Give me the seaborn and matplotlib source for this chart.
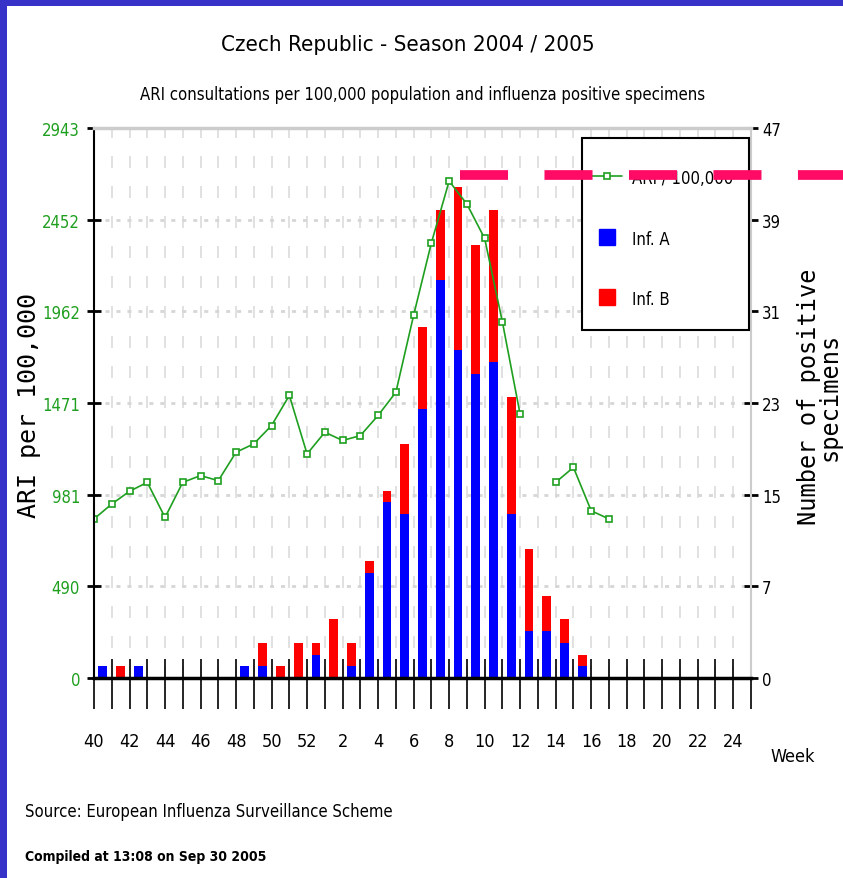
import numpy as np
import pandas as pd
import seaborn as sns
import matplotlib.pyplot as plt
from matplotlib.lines import Line2D
from matplotlib.patches import Rectangle

# season weeks 40/2004 .. 25/2005
weeks = [40, 41, 42, 43, 44, 45, 46, 47, 48, 49, 50, 51, 52,
         1, 2, 3, 4, 5, 6, 7, 8, 9, 10, 11, 12, 13, 14, 15, 16, 17,
         18, 19, 20, 21, 22, 23, 24, 25]
ari = [851, 931, 999, 1047, 859, 1047, 1083, 1056, 1208, 1253, 1351, 1512, 1199,
       1315, 1271, 1297, 1405, 1529, 1941, 2328, 2659, 2536, 2352, 1905, 1410,
       np.nan, 1047, 1127, 895, 851,
       np.nan, np.nan, np.nan, np.nan, np.nan, np.nan, np.nan, np.nan]
inf_a = [1, 0, 1, 0, 0, 0, 0, 0, 1, 1, 0, 0, 2,
         0, 1, 9, 15, 14, 23, 34, 28, 26, 27, 14, 4, 4, 3, 1, 0, 0,
         0, 0, 0, 0, 0, 0, 0, 0]
inf_b = [0, 1, 0, 0, 0, 0, 0, 0, 0, 2, 1, 3, 1,
         5, 2, 1, 1, 6, 7, 6, 14, 11, 13, 10, 7, 3, 2, 1, 0, 0,
         0, 0, 0, 0, 0, 0, 0, 0]
ari_ticklabels = ['0', '490', '981', '1471', '1962', '2452', '2943']
pos_ticklabels = ['0', '7', '15', '23', '31', '39', '47']
ari_max = 2943
pos_max = 47
threshold = 2690
threshold_span = [20.6, 42.6]   # in week positions

GREEN = '#1f9f1f'
NARROW = ['Liberation Sans Narrow', 'DejaVu Sans Condensed', 'DejaVu Sans']
MONO = 'DejaVu Sans Mono'

df = pd.DataFrame({'pos': np.arange(len(weeks)), 'week': weeks, 'ari': ari,
                   'inf_a': inf_a, 'inf_b': inf_b})
df['total'] = df['inf_a'] + df['inf_b']
df['bar_x'] = df['pos'] + 0.5
df['segment'] = df['ari'].isna().cumsum()
week_labels = [str(w) if i % 2 == 0 else '' for i, w in enumerate(weeks)]

sns.set_theme(style='white')
plt.rcParams['font.family'] = NARROW
plt.rcParams['font.stretch'] = 'condensed'
plt.rcParams['text.color'] = 'black'

W, H = 843, 879
fig = plt.figure(figsize=(W / 100, H / 100), dpi=100)
fig.patch.set_facecolor('white')
ax = fig.add_axes([94 / W, 1 - 679 / H, 657 / W, 550 / H])
ax2 = ax.twinx()
ax.set_zorder(ax2.get_zorder() + 1)
ax.patch.set_visible(False)

# stacked bars on the right (count) axis
sns.barplot(data=df, x='bar_x', y='total', native_scale=True, color='#ff0000',
            saturation=1, width=0.5, linewidth=0, errorbar=None, ax=ax2)
sns.barplot(data=df, x='bar_x', y='inf_a', native_scale=True, color='#0000ff',
            saturation=1, width=0.5, linewidth=0, errorbar=None, ax=ax2)

# ARI line on the left axis, broken where a week is missing
sns.lineplot(data=df.dropna(subset=['ari']), x='pos', y='ari', units='segment',
             estimator=None, color=GREEN, lw=1.2, marker='s', ms=5,
             mfc='white', mec=GREEN, mew=1.2, legend=False, ax=ax)

ax.plot(threshold_span, [threshold, threshold], color='#ff0a64', lw=7,
        ls=(0, (4.94, 3.75)), dash_capstyle='butt', clip_on=False, zorder=6)

ax.set_xlim(0, len(weeks) - 1)
ax.set_ylim(0, ari_max)
ax2.set_ylim(0, pos_max)
ax.set_xticks(df['pos'], week_labels)
ax.set_yticks(np.linspace(0, ari_max, 7), ari_ticklabels)
ax2.set_yticks(np.linspace(0, pos_max, 7), pos_ticklabels)
for a in (ax, ax2):
    a.set_xlabel('')
    a.set_ylabel('')

# grid lives on the bottom axes so it stays behind the bars
ax2.xaxis.set_visible(True)
ax2.tick_params(axis='x', direction='in', length=14, width=1.2, color='black',
                bottom=True, top=False, labelbottom=False, labeltop=False)
ax2.set_axisbelow(True)
ax2.grid(axis='x', color='#dcdcdc', lw=1.2, ls=(0, (7.2, 10.8)))
ax2.grid(axis='y', color='#d6d6d6', lw=2, ls=(0, (1.45, 2.5)))
ax.grid(False)

for s in ax2.spines.values():
    s.set_visible(False)
ax.spines['left'].set_color('black')
ax.spines['left'].set_linewidth(1.5)
ax.spines['bottom'].set_color('black')
ax.spines['bottom'].set_linewidth(2.5)
ax.spines['top'].set_color('#cccccc')
ax.spines['top'].set_linewidth(2.5)
ax.spines['right'].set_color('#cccccc')
ax.spines['right'].set_linewidth(1.5)

ax.tick_params(axis='x', direction='out', length=22, width=1.2, pad=17,
               labelsize=13, colors='black', bottom=True)
ax.tick_params(axis='y', direction='inout', length=10, width=2, pad=5,
               labelsize=12, labelcolor=GREEN, color='black', left=True)
ax2.tick_params(axis='y', direction='inout', length=10, width=2, pad=3,
                labelsize=12, labelcolor='black', color='black', right=True)

# legend: box drawn separately so the entries can sit low in a tall frame
ax.add_patch(Rectangle((582 / W, 1 - 331 / H), 167 / W, 192 / H,
                       transform=fig.transFigure, facecolor='white',
                       edgecolor='black', lw=1.5, clip_on=False, zorder=4.9))
handles = [Line2D([], [], color=GREEN, lw=1.2, marker='s', ms=5, mfc='white',
                  mec=GREEN, mew=1.2),
           Line2D([], [], ls='none', marker='s', ms=11, color='#0000ff'),
           Line2D([], [], ls='none', marker='s', ms=11, color='#ff0000')]
leg = ax.legend(handles, ['ARI / 100,000', 'Inf. A', 'Inf. B'], loc='center left',
                bbox_to_anchor=(592 / W, 1 - 239.5 / H), bbox_transform=fig.transFigure,
                borderaxespad=0, frameon=False, fontsize=12, handlelength=1.8,
                handleheight=1.2, labelspacing=2.55, borderpad=0,
                handletextpad=0.6, numpoints=1)

fig.text(408 / W, 1 - 45 / H, 'Czech Republic - Season 2004 / 2005',
         ha='center', va='center', fontsize=16)
fig.text(423 / W, 1 - 95 / H,
         'ARI consultations per 100,000 population and influenza positive specimens',
         ha='center', va='center', fontsize=12)
fig.text(29 / W, 1 - 406 / H, 'ARI per 100,000', rotation=90, ha='center',
         va='center', family=MONO, fontstretch='normal', fontsize=18)
fig.text(819 / W, 1 - 397 / H, 'Number of positive\nspecimens', rotation=90,
         ha='center', va='center', multialignment='center', linespacing=0.8,
         family=MONO, fontstretch='normal', fontsize=17)
fig.text(770 / W, 1 - 757 / H, 'Week', ha='left', va='center', fontsize=13)
fig.text(25 / W, 1 - 812 / H, 'Source: European Influenza Surveillance Scheme',
         ha='left', va='center', fontsize=12)
fig.text(25 / W, 1 - 857 / H, 'Compiled at 13:08 on Sep 30 2005',
         ha='left', va='center', fontsize=10, fontweight='bold')

# blue frame strips of the slide
fig.add_artist(Rectangle((0, 0), 7 / W, 1, transform=fig.transFigure,
                         facecolor='#3732c8', edgecolor='none'))
fig.add_artist(Rectangle((0, 1 - 7 / H), 1, 7 / H, transform=fig.transFigure,
                         facecolor='#3732c8', edgecolor='none'))

fig.savefig('out.png', dpi=100)
